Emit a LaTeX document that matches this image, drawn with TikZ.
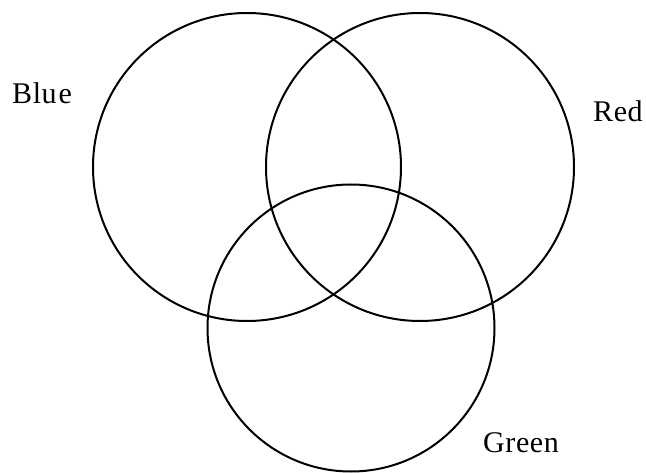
\documentclass[tikz,border=0pt]{standalone}
\usepackage{fontspec}
\setmainfont{Liberation Serif}
\newfontfamily\labfont[LetterSpace=2]{Liberation Serif}
\begin{document}
\begin{tikzpicture}[x=1pt,y=-1pt,
  setcircle/.style={draw=black,line width=2pt,circle,inner sep=0pt},
  setlabel/.style={anchor=base west,inner sep=0pt,font=\labfont\fontsize{30}{32}\selectfont}]
\useasboundingbox (0,0) rectangle (646,473);
\node[setcircle,minimum size=308pt] (blue) at (247,167) {};
\node[setcircle,minimum size=308pt] (red) at (420,167) {};
\node[setcircle,minimum size=287pt] (green) at (351,328) {};
\node[setlabel] (lblue) at (12,104) {Blu\kern2pt e};
\node[setlabel] (lred) at (593,122) {Red};
\node[setlabel] (lgreen) at (483,453) {Green};
\end{tikzpicture}
\end{document}
